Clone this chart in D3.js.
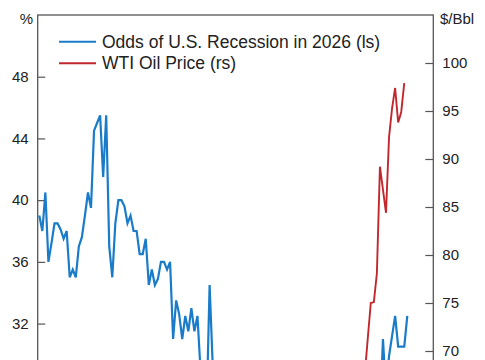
<!DOCTYPE html>
<html>
<head>
<meta charset="utf-8">
<script src="https://cdn.jsdelivr.net/npm/d3@7"></script>
<style>
  html, body { margin: 0; padding: 0; background: #fff; overflow: hidden; }
  svg { display: block; }
  text { font-family: "Liberation Sans", Arial, sans-serif; fill: #222; }
</style>
</head>
<body>
<svg id="chart" width="485" height="360"></svg>
<script>
// Odds of U.S. recession in 2026 (%), left scale, one value per observation
const recessionOdds = [
  39.0, 38.0, 40.5, 36.0, 37.2, 38.5, 38.5, 38.1, 37.5, 38.0,
  35.0, 35.5, 35.0, 37.0, 37.6, 39.0, 40.5, 39.5, 44.5, 45.0,
  45.5, 41.5, 45.5, 37.0, 35.0, 38.5, 40.0, 40.0, 39.6, 38.5,
  39.0, 38.0, 38.0, 36.5, 36.5, 37.5, 34.5, 35.5, 34.5, 34.9,
  36.0, 36.0, 35.5, 36.0, 31.0, 33.5, 32.6, 31.0, 32.5, 31.5,
  33.0, 31.5, 32.5, 29.0, 27.0, 26.4, 34.5, 29.4, 28.5, 27.5,
  28.0, 27.0, 27.5, 26.5, 27.0, 28.0, 27.5, 26.5, 26.0, 27.0,
  26.5, 27.5, 27.0, 26.0, 25.5, 26.5, 26.0, 25.5, 26.5, 27.0,
  26.0, 25.5, 25.0, 26.0, 25.5, 26.5, 26.0, 25.5, 26.0, 27.0,
  26.5, 25.5, 26.0, 25.5, 25.0, 25.5, 26.5, 26.0, 25.5, 26.0,
  25.5, 25.0, 25.5, 26.0, 27.0, 26.5, 27.5, 27.0, 28.0, 27.5,
  28.5, 27.0, 26.0, 31.0, 27.5, 29.9, 31.2, 32.5, 30.5, 30.5,
  30.5, 32.5
];
// WTI oil price ($/Bbl), right scale
const wtiPrice = [
  64.5, 65.0, 64.2, 63.8, 64.6, 65.2, 65.8, 65.1, 64.4, 63.9,
  63.5, 62.8, 63.2, 63.9, 64.7, 65.3, 66.0, 65.4, 64.8, 64.1,
  63.6, 62.9, 62.4, 61.8, 62.3, 61.9, 61.2, 60.8, 61.5, 62.1,
  62.7, 63.3, 62.9, 62.2, 61.7, 61.0, 60.6, 60.9, 61.4, 62.0,
  61.6, 61.1, 60.7, 61.3, 61.9, 62.5, 62.0, 61.4, 60.9, 60.5,
  61.0, 61.6, 62.2, 61.8, 61.2, 60.8, 61.3, 62.0, 62.6, 63.1,
  62.7, 62.1, 61.6, 62.3, 63.0, 63.6, 63.1, 62.5, 62.0, 62.6,
  63.2, 63.8, 64.3, 63.7, 63.1, 63.6, 64.2, 64.8, 64.3, 63.8,
  64.4, 65.0, 65.5, 65.0, 64.5, 65.1, 65.7, 66.2, 65.6, 65.1,
  65.7, 66.3, 66.9, 66.4, 65.8, 66.3, 66.8, 67.3, 66.7, 66.2,
  66.8, 67.4, 67.9, 67.3, 66.9, 67.6, 68.1, 67.5, 71.3, 75.0,
  75.1, 78.1, 89.2, 86.8, 84.4, 92.3, 95.3, 97.4, 93.8, 94.9,
  97.9
];
const leftTicks = [32, 36, 40, 44, 48];
const rightTicks = [70, 75, 80, 85, 90, 95, 100];
const seriesNames = ["Odds of U.S. Recession in 2026 (ls)", "WTI Oil Price (rs)"];
const seriesColors = ["#1a7cc9", "#c1272d"];
const leftUnit = "%";
const rightUnit = "$/Bbl";

const svg = d3.select("#chart");
const frame = { left: 37.7, right: 433.3, top: 15, bottom: 447 };

const x = d3.scaleLinear().domain([0, 121]).range([39.3, 407.3]);
const yL = d3.scaleLinear().domain([24, 52]).range([frame.bottom, frame.top]);
const yR = d3.scaleLinear().domain([60, 105]).range([frame.bottom, frame.top]);

// axes
const axL = svg.append("g").attr("transform", `translate(${frame.left},0)`)
  .call(d3.axisLeft(yL).tickValues(leftTicks).tickSize(-7.5).tickPadding(9).tickFormat(d3.format("d")));
const axR = svg.append("g").attr("transform", `translate(${frame.right},0)`)
  .call(d3.axisRight(yR).tickValues(rightTicks).tickSize(-8).tickPadding(9).tickFormat(d3.format("d")));
[axL, axR].forEach(a => {
  a.select(".domain").remove();
  a.selectAll(".tick line").attr("stroke", "#555").attr("stroke-width", 1.2);
  a.selectAll(".tick text").attr("font-size", 15).attr("fill", "#222")
    .attr("font-family", "'Liberation Sans', Arial, sans-serif");
});

// frame
svg.append("rect")
  .attr("x", frame.left).attr("y", frame.top)
  .attr("width", frame.right - frame.left).attr("height", frame.bottom - frame.top)
  .attr("fill", "none").attr("stroke", "#555").attr("stroke-width", 1.3);

// units
svg.append("text").attr("x", 26.5).attr("y", 24).attr("text-anchor", "middle")
  .attr("font-size", 15).text(leftUnit);
svg.append("text").attr("x", 440).attr("y", 24).attr("text-anchor", "start")
  .attr("font-size", 15).text(rightUnit);

// lines
svg.append("clipPath").attr("id", "plotclip").append("rect")
  .attr("x", frame.left).attr("y", frame.top)
  .attr("width", frame.right - frame.left).attr("height", frame.bottom - frame.top);
const plot = svg.append("g").attr("clip-path", "url(#plotclip)");

plot.append("path").datum(wtiPrice)
  .attr("fill", "none").attr("stroke", seriesColors[1]).attr("stroke-width", 1.9)
  .attr("stroke-linejoin", "miter")
  .attr("d", d3.line().x((d, i) => x(i)).y(d => yR(d)));
plot.append("path").datum(recessionOdds)
  .attr("fill", "none").attr("stroke", seriesColors[0]).attr("stroke-width", 2.2)
  .attr("stroke-linejoin", "miter")
  .attr("d", d3.line().x((d, i) => x(i)).y(d => yL(d)));

// legend
const legend = svg.append("g");
seriesNames.forEach((name, i) => {
  const yy = 41.8 + i * 21.5;
  legend.append("line").attr("x1", 59).attr("x2", 96).attr("y1", yy).attr("y2", yy)
    .attr("stroke", seriesColors[i]).attr("stroke-width", 2);
  legend.append("text").attr("x", 102).attr("y", yy + 6)
    .attr("font-size", 17.5).text(name);
});
</script>
</body>
</html>
